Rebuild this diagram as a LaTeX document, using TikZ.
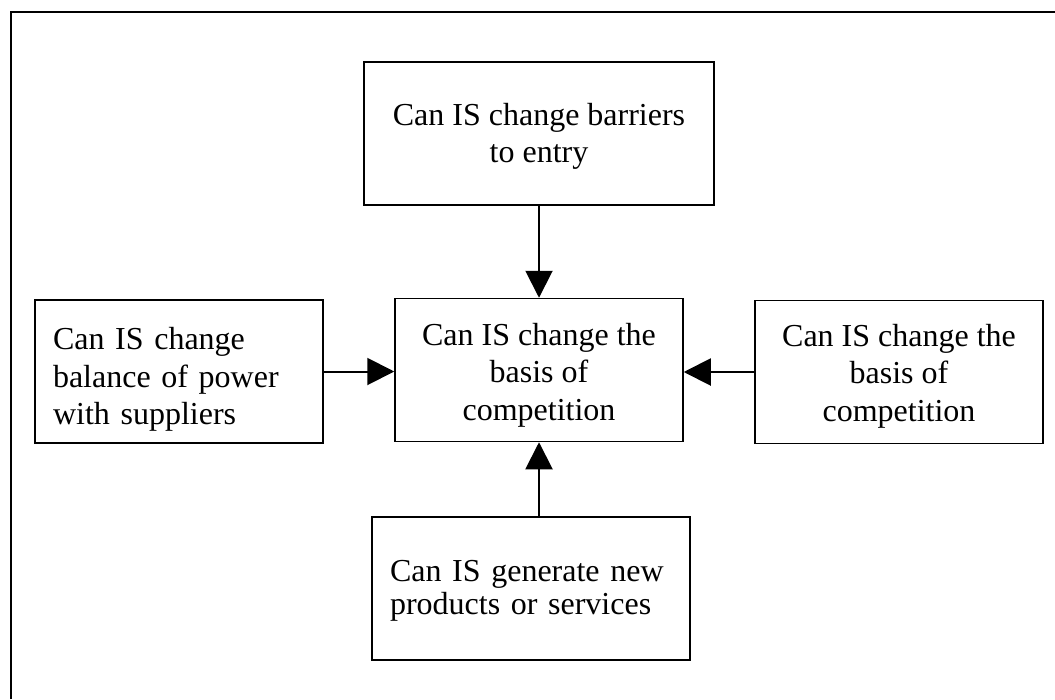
\documentclass[tikz,border=0pt]{standalone}
\usepackage{fontspec}
\setmainfont{Liberation Serif}
\usetikzlibrary{arrows.meta}
\newcommand\mystrut[1]{\rule{0pt}{#1}}
\begin{document}
\begin{tikzpicture}[x=1pt,y=-1pt,
  box/.style={draw, line width=1.5pt, minimum height=143pt, inner ysep=0pt,
    font=\fontsize{32}{37.5}\selectfont},
  cbox/.style={box, minimum width=288pt, inner xsep=0pt, align=center},
  lbox/.style={box, inner xsep=18pt, align=left},
  conn/.style={line width=2pt, -{Triangle[length=27pt,width=27pt]}}]
\useasboundingbox (0,0) rectangle (1055,699);
\draw[line width=2pt] (11,699) -- (11,12) -- (1055,12);
\node[cbox, minimum width=350pt] (top) at (539,133.5) {\mystrut{28pt}Can IS change barriers\\to entry};
\node[cbox] (mid) at (539,370) {\mystrut{32pt}Can IS change the\\basis of\\competition};
\node[lbox, text width=252pt] (left) at (179,371.5) {\mystrut{38pt}Can IS change\\balance of power\\with suppliers};
\node[cbox] (right) at (899,372) {\mystrut{30pt}Can IS change the\\basis of\\competition};
\node[lbox, text width=282pt, font=\fontsize{32}{33.5}\selectfont] (bottom) at (531,588.5) {\mystrut{26pt}Can IS generate new\\products or services};
\draw[conn] (mid.north |- top.south) -- (mid.north);
\draw[conn] (mid.south |- bottom.north) -- (mid.south);
\draw[conn] (left.east) -- (left.east -| mid.west);
\draw[conn] (right.west) -- (right.west -| mid.east);
\end{tikzpicture}
\end{document}
